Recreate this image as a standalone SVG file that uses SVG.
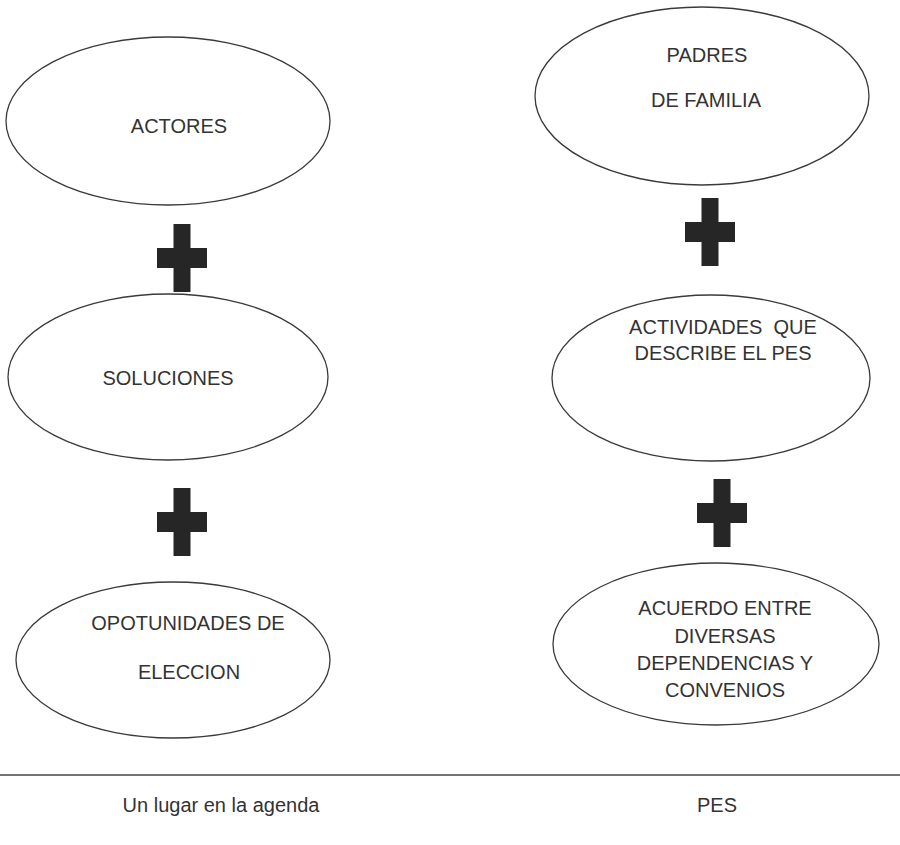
<svg xmlns="http://www.w3.org/2000/svg" width="900" height="845" viewBox="0 0 900 845">
<style>
.node ellipse{fill:#fff;stroke:#3a3a3a;stroke-width:1.3}
text{font-family:"Liberation Sans",Arial,sans-serif;font-size:20px;fill:#333;text-anchor:middle;white-space:pre}
.plus{fill:#262626}
</style>
<defs>
<path id="plus" d="M-8.5,-34 H8.5 V-10 H25 V10 H8.5 V34 H-8.5 V10 H-25 V-10 H-8.5 Z"/>
</defs>
<rect width="900" height="845" fill="#fff"/>
<g id="actores" class="node">
<ellipse cx="168" cy="121" rx="162" ry="84"/>
<text x="179" y="133">ACTORES</text>
</g>
<g id="padres" class="node">
<ellipse cx="702" cy="96" rx="167" ry="89"/>
<text x="707" y="62">PADRES</text>
<text x="706" y="107">DE FAMILIA</text>
</g>
<g id="soluciones" class="node">
<ellipse cx="168" cy="377" rx="160" ry="83"/>
<text x="168" y="385">SOLUCIONES</text>
</g>
<g id="actividades" class="node">
<ellipse cx="711" cy="378" rx="159" ry="83"/>
<text x="723" y="334">ACTIVIDADES  QUE</text>
<text x="723" y="360">DESCRIBE EL PES</text>
</g>
<g id="oportunidades" class="node">
<ellipse cx="173" cy="660" rx="157" ry="78"/>
<text x="188" y="630">OPOTUNIDADES DE</text>
<text x="189" y="679">ELECCION</text>
</g>
<g id="acuerdo" class="node">
<ellipse cx="716" cy="644" rx="163" ry="81"/>
<text x="725" y="615">ACUERDO ENTRE</text>
<text x="725" y="643">DIVERSAS</text>
<text x="725" y="670">DEPENDENCIAS Y</text>
<text x="725" y="697">CONVENIOS</text>
</g>
<g id="connectors">
<use href="#plus" class="plus" x="182" y="258"/>
<use href="#plus" class="plus" x="182" y="522"/>
<use href="#plus" class="plus" x="710" y="232"/>
<use href="#plus" class="plus" x="722" y="513"/>
<line x1="0" y1="775" x2="900" y2="775" stroke="#444" stroke-width="1.5"/>
</g>
<g id="labels">
<text x="221" y="812">Un lugar en la agenda</text>
<text x="717" y="812">PES</text>
</g>
</svg>
